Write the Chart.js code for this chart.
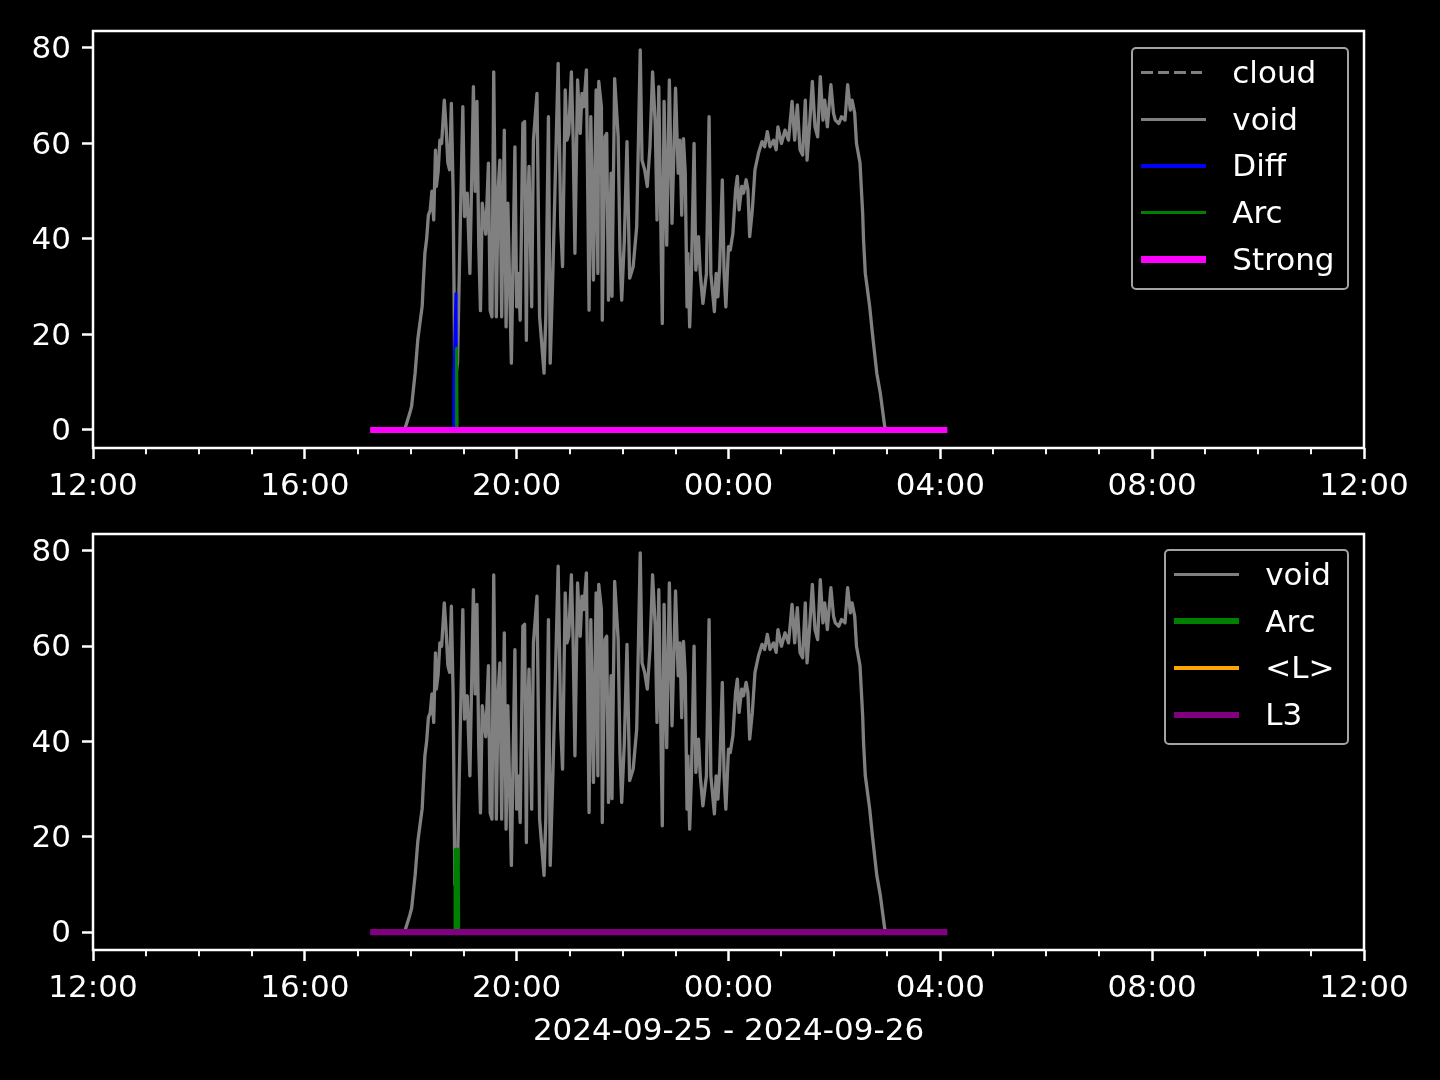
<!DOCTYPE html>
<html>
<head>
<meta charset="utf-8">
<script src="https://cdn.jsdelivr.net/npm/chart.js@4.4.0/dist/chart.umd.min.js"></script>
<style>
  html, body { margin: 0; padding: 0; background: #000; }
  #wrap { position: relative; width: 1440px; height: 1080px; overflow: hidden; font-family: "DejaVu Sans"; }
  canvas { position: absolute; left: 0; }
  #topChart { top: 0; }
  #bottomChart { top: 500px; }
  .legend { position: absolute; right: 91px; border: 2.5px solid #a3a3a3; border-radius: 5px;
            background: rgba(0,0,0,0.8); padding: 0 12.5px 5px 0; z-index: 5; }
  .row { display: flex; align-items: center; height: 46.8px; }
  .swatch { margin-left: 8.5px; width: 65px; margin-right: 26px; }
  .lbl { color: #fff; font-size: 31px; line-height: 1; white-space: nowrap; }
</style>
</head>
<body>
<div id="wrap">
  <canvas id="topChart" width="1440" height="520"></canvas>
  <canvas id="bottomChart" width="1440" height="580"></canvas>
  <div class="legend" id="topLegend" style="top:47px"></div>
  <div class="legend" id="bottomLegend" style="top:549px"></div>
</div>
<script>
'use strict';
// colours, kept here so they are easy to tweak
var cVoid = '#808080';
var cDiff = '#0000ff';
var cArc = '#008000';
var cStrong = '#ff00ff';
var cL = '#ffa500';
var cL3 = '#800080';

// data (clock times, 2024-09-25 12:00 -> 2024-09-26 12:00)
var voidTimes = ['17:53','17:59','18:01','18:05','18:08','18:13','18:14','18:16','18:18','18:20',
  '18:22','18:24','18:26','18:28','18:29','18:31','18:33','18:35','18:38','18:40',
  '18:42','18:44','18:46','18:48','18:50','18:53','18:56','18:59','19:01','19:04',
  '19:07','19:11','19:13','19:15','19:17','19:19','19:21','19:25','19:28','19:30',
  '19:32','19:34','19:37','19:39','19:41','19:43','19:46','19:48','19:50','19:54',
  '19:58','20:00','20:02','20:04','20:07','20:09','20:11','20:12','20:14','20:17',
  '20:19','20:23','20:26','20:31','20:33','20:36','20:38','20:41','20:45','20:47',
  '20:50','20:52','20:55','20:57','20:59','21:02','21:04','21:06','21:09','21:12',
  '21:14','21:16','21:19','21:22','21:24','21:27','21:30','21:32','21:33','21:36',
  '21:37','21:40','21:42','21:44','21:47','21:48','21:51','21:55','21:57','21:59',
  '22:02','22:05','22:08','22:12','22:16','22:20','22:22','22:25','22:28','22:31',
  '22:34','22:37','22:39','22:41','22:45','22:47','22:50','22:53','22:56','23:00',
  '23:03','23:05','23:07','23:09','23:11','23:13','23:14','23:16','23:18','23:21',
  '23:23','23:26','23:28','23:31','23:35','23:38','23:40','23:44','23:46','23:48',
  '23:50','23:53','23:55','23:57','00:00','00:02','00:05','00:08','00:10','00:12',
  '00:15','00:17','00:20','00:22','00:24','00:27','00:30','00:34','00:38','00:41',
  '00:44','00:47','00:51','00:54','00:56','01:00','01:04','01:08','01:12','01:15',
  '01:18','01:21','01:24','01:27','01:29','01:32','01:35','01:38','01:41','01:44',
  '01:47','01:49','01:52','01:56','01:59','02:01','02:05','02:08','02:12','02:15',
  '02:18','02:20','02:23','02:25','02:29','02:32','02:33','02:35','02:40','02:43',
  '02:48','02:52','02:57','03:00'];
var voidValues = [0,3.6,5,12,19,26,30,37,40,45,
  46,50,44,58.6,51,54,60.7,60,69.1,63.5,
  56,54.5,68.4,50,10,14,41.9,67.7,44.7,49.6,
  32.8,71.9,50,68.8,39,25,47.5,41,55.9,25,
  23.7,75,23.7,50.3,56.5,23.7,62.8,21.6,47.5,14,
  59.3,25.8,32.8,23,64.2,64.6,18.8,42.6,55.2,25.8,
  60.7,70.5,23.7,11.9,23.7,65.6,14,32.8,62.1,76.8,
  42.6,34.2,71.2,60.7,62.1,75,60.7,37,73.3,62.1,
  70.5,67.7,75.4,25.1,65.6,31.4,71.2,32.8,73,67.7,
  23,61.4,62.1,27.2,53.8,28,73.6,61.4,37.7,27.2,
  39.8,60.4,31.8,34.2,42.6,79.6,56.5,54.5,51,59.3,
  75,64.2,44,71.9,22.3,68.8,38.7,73.3,43.3,71.6,
  53.8,60.7,45,61,53.8,25.8,37,21.6,32.8,60,
  33.5,40.5,32.8,26.5,32.8,65.6,32.8,24.8,32.8,27.9,
  34.2,52.4,32.8,25.8,38.4,37.7,41.2,50.3,53.1,46.1,
  51,49.6,52.4,50.3,40.5,46.1,54.5,58,60.4,59.3,
  62.5,59.3,60.7,58.7,63.5,60,62.8,60.7,68.8,60.7,
  68.1,58.7,57.6,69.1,56.5,64.2,73,63.5,61.4,74,
  64.9,69.1,63.5,72.3,66.3,64.9,64.2,65.6,64.9,72.3,
  67,69.1,66.3,60,55.9,45.4,39.8,32.8,25.8,20.3,
  11.9,7.7,0.7,0];

var diffTimes = ['18:49:00','18:49:05','18:51:15','18:52:00'];
var diffValues = [0, 11, 28.6, 0];

var arcTimes = ['18:51:30','18:52:00','18:52:30'];
var arcValues = [0, 17.1, 0];

var strongTimes = ['17:14','04:08'];
var strongValues = [0, 0];

var l3Times = ['17:14','04:08'];
var l3Values = [0, 0];

// cloud and <L> have nothing to show here
var cloudTimes = [];
var cloudValues = [];
var lTimes = [];
var lValues = [];

var xTickLabels = ['12:00','16:00','20:00','00:00','04:00','08:00','12:00'];
var yTicks = [0, 20, 40, 60, 80];
var dateLabel = '2024-09-25 - 2024-09-26';

// hours after 12:00 on the first day
function toHours(t) {
  var p = t.split(':');
  var h = +p[0] + (+p[1]) / 60 + (p[2] ? +p[2] / 3600 : 0);
  return (h - 12 + 24) % 24;
}
function points(times, values) {
  return times.map(function (t, i) { return { x: toHours(t), y: values[i] }; });
}

function line(label, times, values, color, width, order, dash) {
  return {
    label: label,
    data: points(times, values),
    borderColor: color,
    backgroundColor: color,
    borderWidth: width,
    borderDash: dash || [],
    pointRadius: 0,
    tension: 0,
    fill: false,
    order: order,
    borderCapStyle: 'butt',
    borderJoinStyle: 'round'
  };
}

var font = { family: 'DejaVu Sans', size: 31 };

var framePlugin = {
  id: 'frame',
  afterDatasetsDraw: function (chart) {
    var ctx = chart.ctx, a = chart.chartArea, x = chart.scales.x;
    ctx.save();
    ctx.strokeStyle = '#fff';
    ctx.lineWidth = 1.9;
    for (var h = 1; h < 24; h++) {
      if (h % 4 === 0) continue;
      var px = Math.round(x.getPixelForValue(h));
      ctx.beginPath();
      ctx.moveTo(px, a.bottom);
      ctx.lineTo(px, a.bottom + 6.25);
      ctx.stroke();
    }
    ctx.lineWidth = 2.5;
    ctx.strokeRect(a.left, a.top, a.right - a.left, a.bottom - a.top);
    ctx.restore();
  }
};

function makeOptions(padTop, xHeight, withTitle) {
  return {
    responsive: false,
    animation: false,
    layout: { padding: { left: 0, right: 76, top: padTop, bottom: 0 } },
    plugins: { legend: { display: false }, tooltip: { enabled: false } },
    scales: {
      x: {
        type: 'linear', min: 0, max: 24,
        afterFit: function (s) { s.height = xHeight; },
        grid: { drawOnChartArea: false, drawTicks: true, tickLength: 11, tickWidth: 2.5, tickColor: '#fff' },
        border: { display: false },
        ticks: {
          stepSize: 4, autoSkip: false, maxRotation: 0, color: '#fff', font: font, padding: 9,
          callback: function (v) { return xTickLabels[Math.round(v / 4)]; }
        },
        title: { display: withTitle, text: dateLabel, color: '#fff', font: font, padding: { top: 0, bottom: 29 } }
      },
      y: {
        min: -3.77, max: 83.56,
        afterFit: function (s) { s.width = 93; },
        afterBuildTicks: function (s) { s.ticks = yTicks.map(function (v) { return { value: v }; }); },
        grid: { drawOnChartArea: false, drawTicks: true, tickLength: 11, tickWidth: 2.5, tickColor: '#fff' },
        border: { display: false },
        ticks: { color: '#fff', font: font, padding: 11, labelOffset: 2 }
      }
    }
  };
}

function buildLegend(el, datasets) {
  datasets.forEach(function (d) {
    var row = document.createElement('div');
    row.className = 'row';
    var sw = document.createElement('div');
    sw.className = 'swatch';
    sw.style.height = d.borderWidth + 'px';
    if (d.borderDash.length) {
      sw.style.background = 'repeating-linear-gradient(to right,' + d.borderColor + ' 0 ' + d.borderDash[0] +
        'px, transparent ' + d.borderDash[0] + 'px ' + (d.borderDash[0] + d.borderDash[1]) + 'px)';
    } else {
      sw.style.background = d.borderColor;
    }
    var lb = document.createElement('span');
    lb.className = 'lbl';
    lb.textContent = d.label;
    row.appendChild(sw);
    row.appendChild(lb);
    el.appendChild(row);
  });
}

var topSets = [
  line('cloud', cloudTimes, cloudValues, cVoid, 3.1, 4, [11.6, 5]),
  line('void', voidTimes, voidValues, cVoid, 3.3, 3),
  line('Diff', diffTimes, diffValues, cDiff, 3.1, 2),
  line('Arc', arcTimes, arcValues, cArc, 3.1, 1),
  line('Strong', strongTimes, strongValues, cStrong, 6.2, 0)
];
var bottomSets = [
  line('void', voidTimes, voidValues, cVoid, 3.3, 3),
  line('Arc', arcTimes, arcValues, cArc, 6.2, 2),
  line('<L>', lTimes, lValues, cL, 3.1, 1),
  line('L3', l3Times, l3Values, cL3, 6.2, 0)
];

new Chart(document.getElementById('topChart'), {
  type: 'line',
  data: { datasets: topSets },
  options: makeOptions(31, 72, false),
  plugins: [framePlugin]
});
new Chart(document.getElementById('bottomChart'), {
  type: 'line',
  data: { datasets: bottomSets },
  options: makeOptions(34, 130, true),
  plugins: [framePlugin]
});

buildLegend(document.getElementById('topLegend'), topSets);
buildLegend(document.getElementById('bottomLegend'), bottomSets);
</script>
</body>
</html>
